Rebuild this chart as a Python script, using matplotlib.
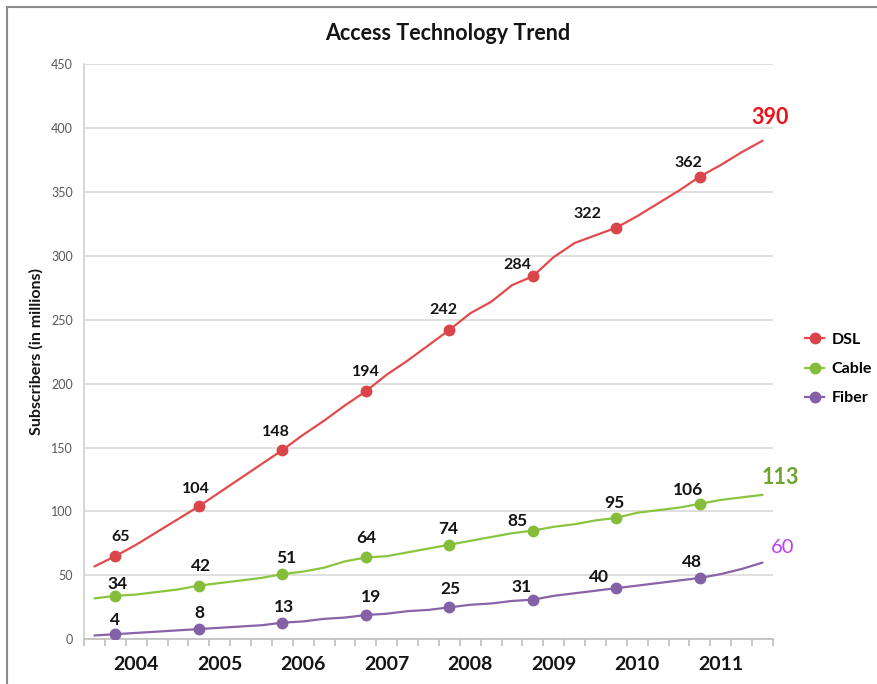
import matplotlib
matplotlib.use('Agg')
import matplotlib.pyplot as plt
from matplotlib.patches import Rectangle

plt.rcParams['font.family'] = ['Lato', 'DejaVu Sans']

# quarterly series (33 points), yearly markers every 4th point starting at index 1
years = ['2004', '2005', '2006', '2007', '2008', '2009', '2010', '2011']
dsl = [57, 65, 74, 84, 94, 104, 115, 126, 137, 148, 160, 171, 183, 194, 207, 218, 230,
       242, 255, 264, 277, 284, 299, 310, 316, 322, 331, 341, 351, 362, 371, 381, 390]
cable = [32, 34, 35, 37, 39, 42, 44, 46, 48, 51, 53, 56, 61, 64, 65, 68, 71,
         74, 77, 80, 83, 85, 88, 90, 93, 95, 99, 101, 103, 106, 109, 111, 113]
fiber = [3, 4, 5, 6, 7, 8, 9, 10, 11, 13, 14, 16, 17, 19, 20, 22, 23,
         25, 27, 28, 30, 31, 34, 36, 38, 40, 42, 44, 46, 48, 51, 55, 60]

marker_idx = [1, 5, 9, 13, 17, 21, 25, 29]

series = [
    ('DSL', dsl, '#E24A4C', '#D94548'),
    ('Cable', cable, '#8BC43F', '#84BD3A'),
    ('Fiber', fiber, '#8A62AA', '#8460A6'),
]

# label offsets in pixels (dx, dy up) per series, per marker
label_off = {
    'DSL': [(5, 19), (-3, 17), (-6, 18), (0, 19), (-6, 20), (-16, 11), (-29, 14), (-12, 14)],
    'Cable': [(2, 12), (2, 20), (4, 16), (0, 19), (-1, 16), (-15, 10), (-2, 15), (-12, 14)],
    'Fiber': [(0, 14), (1, 16), (2, 16), (5, 18), (1, 18), (-11, 13), (-17, 11), (-8, 16)],
}
end_style = {
    'DSL': ('#E8141C', (7, 23), 'bold', 15.5),
    'Cable': ('#6FA22E', (18, 17), 'bold', 15.5),
    'Fiber': ('#C03CF5', (20, 15), 'normal', 14.5),
}

fig = plt.figure(figsize=(8.77, 6.84), dpi=100)
ax = fig.add_axes([84 / 877, 1 - 639.3 / 684, (773 - 84) / 877, (639.3 - 64) / 684])

px = 0.72  # points per pixel at dpi 100
for name, vals, lc, mc in series:
    x = [i + 0.5 for i in range(len(vals))]
    ax.plot(x, vals, color=lc, lw=1.6, zorder=3, solid_capstyle='round')
    mx = [i + 0.5 for i in marker_idx]
    my = [vals[i] for i in marker_idx]
    ax.plot(mx, my, 'o', color=mc, ms=7.5, zorder=4, label=name)
    fs = 11.5 if name == 'DSL' else 12.5
    for k, i in enumerate(marker_idx):
        dx, dy = label_off[name][k]
        ax.annotate(str(vals[i]), (i + 0.5, vals[i]), xytext=(dx * px, dy * px),
                    textcoords='offset points', ha='center', va='center',
                    fontsize=fs, fontweight='bold', color='#141414', zorder=5)
    col, (dx, dy), fw, efs = end_style[name]
    ax.annotate(str(vals[-1]), (len(vals) - 0.5, vals[-1]), xytext=(dx * px, dy * px),
                textcoords='offset points', ha='center', va='center',
                fontsize=efs, fontweight=fw, color=col, zorder=5, annotation_clip=False)

ax.set_xlim(0, 33)
ax.set_ylim(0, 450)
ax.set_yticks(range(0, 451, 50))
ax.tick_params(axis='y', length=0, labelsize=9, labelcolor='#595959', pad=8)
ax.yaxis.grid(True, color='#D9D9D9', lw=1.2)
ax.set_axisbelow(True)

ax.set_xticks([2.5 + 4 * k for k in range(len(years))])
ax.set_xticklabels(years, fontsize=14, fontweight='bold', color='#141414')
ax.set_xticks(range(0, 34), minor=True)
ax.tick_params(axis='x', which='major', length=0, pad=12)
ax.tick_params(axis='x', which='minor', length=5, color='#BFBFBF', width=1.2)

for s in ['top', 'right']:
    ax.spines[s].set_visible(False)
ax.spines['left'].set_color('#D0D0D0')
ax.spines['bottom'].set_color('#BFBFBF')
ax.spines['left'].set_linewidth(1.2)
ax.spines['bottom'].set_linewidth(1.2)

ax.set_ylabel('Subscribers (in millions)', fontsize=11.5, fontweight='bold', color='#141414', labelpad=5)
fig.text(448 / 877, 1 - 33 / 684, 'Access Technology Trend', ha='center', va='center',
         fontsize=15.5, fontweight='bold', color='#141414')

ax.legend(loc='center left', bbox_to_anchor=(797 / 877, 1 - 369 / 684), bbox_transform=fig.transFigure,
          frameon=False, prop={'weight': 'bold', 'size': 11.5}, handlelength=1.2,
          handletextpad=0.45, labelspacing=0.95, borderpad=0)
# legend handles with line + marker
leg = ax.get_legend()
for h, (name, vals, lc, mc) in zip(leg.legend_handles, series):
    h.set_linestyle('-')
    h.set_color(lc)
    h.set_markerfacecolor(mc)
    h.set_markeredgecolor(mc)
    h.set_linewidth(1.6)

fig.patches.append(Rectangle((7 / 877, -0.1), 1.2, 1.1 - 7 / 684, transform=fig.transFigure,
                             fill=False, edgecolor='#8C8C8C', lw=1.5))

fig.savefig('out.png', dpi=100)
